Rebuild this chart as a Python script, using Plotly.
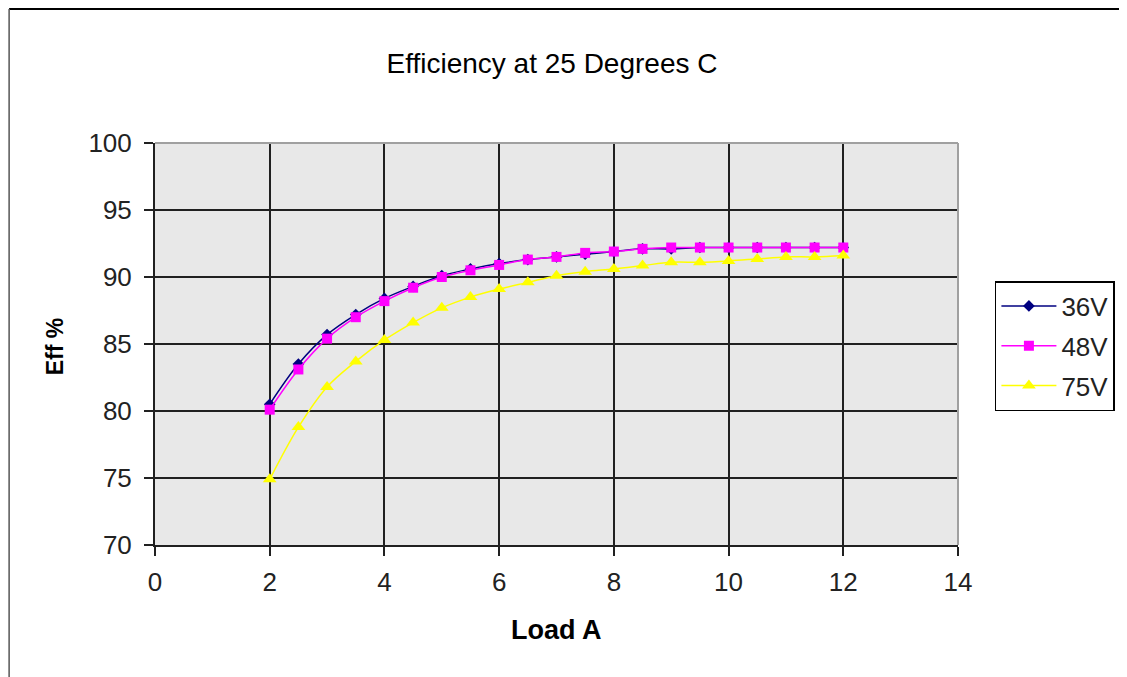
import plotly.graph_objects as go

load_a = [2, 2.5, 3, 3.5, 4, 4.5, 5, 5.5, 6, 6.5, 7, 7.5, 8, 8.5, 9, 9.5, 10, 10.5, 11, 11.5, 12]
eff_36v = [80.5, 83.5, 85.7, 87.2, 88.4, 89.3, 90.1, 90.6, 91.0, 91.3, 91.5, 91.7, 91.9, 92.1, 92.1,
           92.2, 92.2, 92.2, 92.2, 92.2, 92.2]
eff_48v = [80.1, 83.1, 85.4, 87.0, 88.2, 89.2, 90.0, 90.5, 90.9, 91.3, 91.5, 91.8, 91.9, 92.1, 92.2,
           92.2, 92.2, 92.2, 92.2, 92.2, 92.2]
eff_75v = [74.9, 78.8, 81.8, 83.7, 85.3, 86.6, 87.7, 88.5, 89.1, 89.6, 90.1, 90.4, 90.6, 90.85, 91.1,
           91.1, 91.2, 91.35, 91.5, 91.5, 91.6]
series_names = ["36V", "48V", "75V"]
x_ticks = [0, 2, 4, 6, 8, 10, 12, 14]
y_ticks = [70, 75, 80, 85, 90, 95, 100]

FONT = "Liberation Sans, Arial, sans-serif"
W, H = 1119, 669
L, T, PW, PH = 147, 135, 805, 402

fig = go.Figure()
fig.add_trace(go.Scatter(x=load_a, y=eff_36v, name=series_names[0], mode="lines+markers",
                         legendgroup="a",
                         line=dict(color="#000080", width=1.5, shape="spline"),
                         marker=dict(symbol="diamond", size=9, color="#000080")))
fig.add_trace(go.Scatter(x=load_a, y=eff_48v, name=series_names[1], mode="lines+markers",
                         legendgroup="b",
                         line=dict(color="#FF00FF", width=1.5, shape="spline"),
                         marker=dict(symbol="square", size=10, color="#FF00FF")))
fig.add_trace(go.Scatter(x=load_a, y=eff_75v, name=series_names[2], mode="lines+markers",
                         legendgroup="c",
                         line=dict(color="#FFFF00", width=1.5, shape="spline"),
                         marker=dict(symbol="triangle-up", size=12, color="#FFFF00")))

fig.update_layout(
    width=W, height=H,
    margin=dict(l=L, r=W - L - PW, t=T, b=H - T - PH),
    paper_bgcolor="white",
    plot_bgcolor="#E8E8E8",
    font=dict(family=FONT, size=26, color="#222222"),
    title=dict(text="Efficiency at 25 Degrees C", x=544 / W, xanchor="center",
               y=1 - 55 / H, yanchor="middle", xref="container", yref="container",
               font=dict(family=FONT, size=28, color="#000000")),
    legend=dict(x=(997 - 155) / PW, y=(545 - 281) / PH, xanchor="left", yanchor="top",
                bordercolor="#000000", borderwidth=1.5, bgcolor="white",
                font=dict(family=FONT, size=26, color="#222222"),
                itemwidth=55, tracegroupgap=3),
    showlegend=True,
    hovermode=False,
)
fig.update_xaxes(range=[0, 14], tickvals=x_ticks, ticktext=[str(v) for v in x_ticks],
                 showgrid=True, gridcolor="#202020", gridwidth=2,
                 showline=True, linecolor="#202020", linewidth=2,
                 ticks="outside", ticklen=9, tickwidth=2, tickcolor="#202020",
                 ticklabelstandoff=4, zeroline=False)
fig.update_yaxes(range=[70, 100], tickvals=y_ticks, ticktext=[str(v) for v in y_ticks],
                 showgrid=True, gridcolor="#202020", gridwidth=2,
                 showline=True, linecolor="#202020", linewidth=2,
                 ticks="outside", ticklen=9, tickwidth=2, tickcolor="#202020",
                 ticklabelstandoff=7, zeroline=False)

# plot area gray border on top and right
fig.add_shape(type="line", xref="paper", yref="paper", x0=0, x1=1, y0=1, y1=1,
              line=dict(color="#A0A0A0", width=2))
fig.add_shape(type="line", xref="paper", yref="paper", x0=1, x1=1, y0=0, y1=1,
              line=dict(color="#A0A0A0", width=2))
# chart area border (left and top visible)
bx = (0.75 - L) / PW
by = (T + PH - 1) / PH
fig.add_shape(type="line", xref="paper", yref="paper", x0=bx, x1=3, y0=by, y1=by,
              line=dict(color="#000000", width=2))
fig.add_shape(type="line", xref="paper", yref="paper", x0=bx, x1=bx, y0=by, y1=-3,
              line=dict(color="#555555", width=1.5))

fig.add_annotation(text="<b>Eff %</b>", xref="paper", yref="paper",
                   x=(55 - 155) / PW, y=(545 - 346) / PH, textangle=-90, showarrow=False,
                   xanchor="center", yanchor="middle", font=dict(family=FONT, size=23, color="#000000"))
fig.add_annotation(text="<b>Load A</b>", xref="paper", yref="paper",
                   x=(557 - 155) / PW, y=(545 - 630) / PH, showarrow=False,
                   xanchor="center", yanchor="middle", font=dict(family=FONT, size=27, color="#000000"))

fig.write_html("out.html")
